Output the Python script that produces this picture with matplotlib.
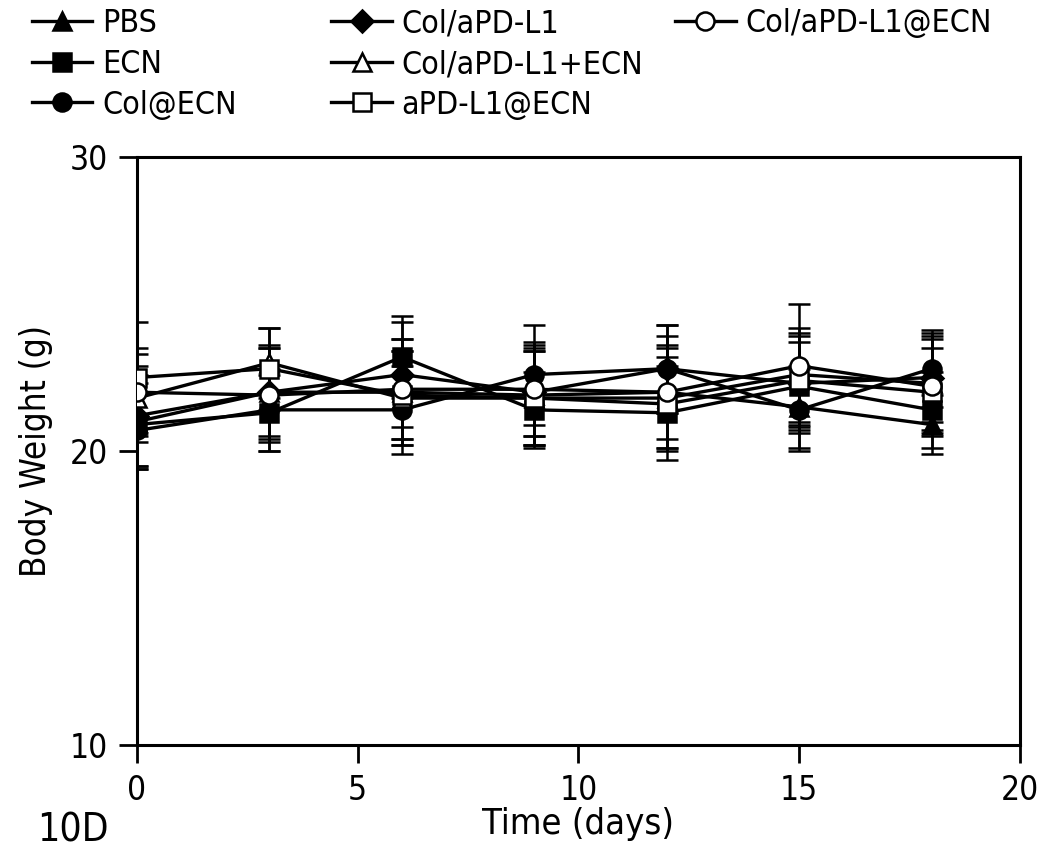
import matplotlib
matplotlib.use("Agg")
import matplotlib.pyplot as plt
from matplotlib.lines import Line2D

plt.rcParams['font.family'] = ['DejaVu Sans']
plt.rcParams['font.stretch'] = 'condensed'

days = [0, 3, 6, 9, 12, 15, 18]

pbs = [21.0, 22.0, 22.0, 21.9, 22.0, 21.5, 20.9]
pbs_err = [1.6, 1.5, 1.8, 1.7, 1.9, 1.4, 1.0]

ecn = [20.9, 21.3, 23.2, 21.4, 21.3, 22.2, 21.4]
ecn_err = [1.4, 1.3, 1.4, 1.3, 1.6, 1.5, 1.3]

col_ecn = [20.7, 21.4, 21.4, 22.6, 22.8, 21.4, 22.8]
col_ecn_err = [1.3, 1.4, 1.5, 1.7, 1.5, 1.4, 1.3]

col_apd = [21.2, 22.0, 22.6, 22.0, 22.8, 22.3, 22.5]
col_apd_err = [1.7, 1.6, 1.8, 1.5, 1.5, 1.7, 1.5]

col_apd_plus_ecn = [21.8, 23.0, 21.8, 21.8, 21.8, 22.6, 22.3]
col_apd_plus_ecn_err = [1.5, 1.2, 1.6, 1.6, 1.7, 1.6, 1.6]

col_apd_at_ecn = [22.0, 21.9, 22.1, 22.1, 22.0, 22.9, 22.2]
col_apd_at_ecn_err = [1.5, 1.6, 1.7, 1.6, 1.6, 2.1, 1.6]

apd_ecn = [22.5, 22.8, 21.9, 21.8, 21.6, 22.4, 22.0]
apd_ecn_err = [1.9, 1.4, 1.5, 1.6, 1.6, 1.5, 1.5]

series = [
    ("PBS", pbs, pbs_err, "^", "black"),
    ("ECN", ecn, ecn_err, "s", "black"),
    ("Col@ECN", col_ecn, col_ecn_err, "o", "black"),
    ("Col/aPD-L1", col_apd, col_apd_err, "D", "black"),
    ("Col/aPD-L1+ECN", col_apd_plus_ecn, col_apd_plus_ecn_err, "^", "white"),
    ("aPD-L1@ECN", apd_ecn, apd_ecn_err, "s", "white"),
    ("Col/aPD-L1@ECN", col_apd_at_ecn, col_apd_at_ecn_err, "o", "white"),
]

fig = plt.figure(figsize=(10.58, 8.5), dpi=100)
ax = fig.add_axes([0.1295, 0.1235, 0.8345, 0.6918])

handles = {}
for name, vals, err, mk, fc in series:
    ms = 13 if mk != "D" else 11
    ax.errorbar(days, vals, yerr=err, color="black", lw=2.4, elinewidth=1.8,
                capsize=8, capthick=2.0, marker=mk, ms=ms,
                mfc=fc, mec="black", mew=1.8, zorder=3 if fc == "black" else 4)
    handles[name] = Line2D([], [], color="black", lw=2.4, marker=mk,
                           ms=ms, mfc=fc, mec="black", mew=1.8)

ax.set_xlim(0, 20)
ax.set_ylim(10, 30)
ax.set_xticks([0, 5, 10, 15, 20])
ax.set_yticks([10, 20, 30])
ax.tick_params(direction="out", length=13, width=2, labelsize=24, pad=8)
for sp in ax.spines.values():
    sp.set_linewidth(2.2)
ax.set_xlabel("Time (days)", fontsize=26, labelpad=0)
ax.set_ylabel("Body Weight (g)", fontsize=25, labelpad=12)

columns = [
    (["PBS", "ECN", "Col@ECN"], 0.03),
    (["Col/aPD-L1", "Col/aPD-L1+ECN", "aPD-L1@ECN"], 0.313),
    (["Col/aPD-L1@ECN"], 0.638),
]
for names, x0 in columns:
    fig.legend([handles[n] for n in names], names, loc="upper left",
               bbox_to_anchor=(x0, 0.99), frameon=False, fontsize=23,
               handlelength=1.9, handletextpad=0.3, labelspacing=0.3,
               borderaxespad=0.0, borderpad=0.0)

fig.text(0.035, 0.0, "10D", fontsize=28, va="bottom", ha="left")

fig.savefig("out.png", dpi=100)
